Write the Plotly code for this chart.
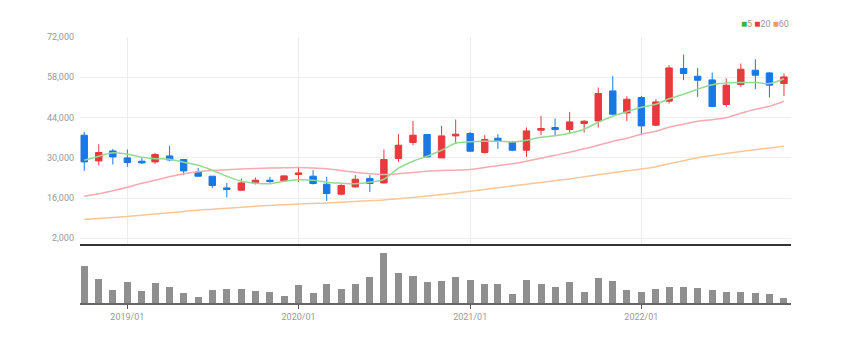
import pandas as pd
import plotly.graph_objects as go

months = pd.date_range("2018-10-01", periods=50, freq="MS")

open_ = [37840, 28900, 32380, 29950, 28800, 28550, 30640, 29390, 25080, 23580,
         19510, 18710, 21250, 22190, 21950, 24170, 23580, 20800, 17320, 19860,
         22780, 21250, 29740, 35300, 38080, 29950, 37600, 38430, 31820, 36800,
         35300, 32620, 39580, 40520, 39820, 41910, 42810, 53250, 45600, 50950,
         41320, 49670, 61040, 58360, 57070, 48520, 55470, 60450, 59510, 55820]
high = [38990, 34710, 33080, 32870, 30080, 31680, 34120, 29500, 26470, 23600,
        21250, 22780, 23130, 23340, 23930, 26820, 25670, 23340, 20800, 23930,
        23930, 32870, 38190, 42810, 38300, 41080, 43300, 38990, 37840, 38190,
        35750, 40520, 44550, 43650, 45940, 43060, 54430, 58360, 51400, 51510,
        50360, 62190, 65910, 61250, 59650, 57560, 62780, 64270, 59860, 59300]
low = [25420, 27400, 27650, 26820, 27860, 27860, 28800, 23930, 23400, 19410,
       16170, 18470, 20690, 21040, 21600, 21600, 20700, 14990, 16970, 19650,
       18120, 21000, 28550, 34360, 30100, 29900, 34950, 32030, 31480, 33080,
       32280, 30290, 37840, 37840, 38430, 38780, 40520, 44900, 42810, 37840,
       41000, 48870, 56970, 51160, 47600, 47680, 54640, 53840, 50950, 51510]
close = [28550, 31820, 30290, 28350, 28210, 31130, 29250, 25420, 23580, 20350,
         18950, 21250, 22190, 21730, 23690, 24730, 21040, 17560, 20350, 22540,
         21040, 29390, 34360, 37840, 30290, 37600, 38190, 32280, 36350, 35650,
         32620, 39340, 40170, 39820, 42470, 42710, 52340, 45140, 50360, 41080,
         49420, 61250, 59300, 56970, 47820, 55230, 60790, 58710, 55230, 58120]

ma5 = [29140, 30540, 31750, 31230, 30190, 29670, 29490, 28450, 27410, 25670,
       23580, 21840, 21150, 20970, 21840, 22360, 22190, 21490, 21150, 20970,
       21490, 22540, 26360, 28800, 30540, 32620, 35060, 35580, 35750, 35750,
       35510, 36100, 37140, 37670, 38540, 39930, 42360, 44450, 46010, 47580,
       48620, 50530, 52100, 53840, 55400, 56030, 56170, 56170, 55820, 57490]
ma20 = [16620, 17490, 18540, 19750, 21150, 22190, 23410, 24450, 25150, 25560,
        25840, 26090, 26260, 26400, 26540, 26610, 26430, 26190, 25560, 24970,
        24450, 24170, 24450, 24870, 25320, 25560, 25670, 25910, 26610, 27230,
        27930, 28800, 29840, 30880, 31930, 33150, 34360, 35750, 36800, 38190,
        39230, 40620, 41670, 42710, 43230, 43930, 45490, 46880, 47930, 49670]
ma60 = [8520, 8870, 9220, 9600, 10020, 10430, 10850, 11300, 11760, 12100,
        12450, 12800, 13150, 13420, 13670, 13910, 14090, 14260, 14540, 14820,
        15060, 15340, 15760, 16210, 16690, 17220, 17770, 18360, 18950, 19580,
        20210, 20800, 21420, 22020, 22640, 23410, 24100, 24800, 25490, 26120,
        26890, 27930, 28970, 30010, 30780, 31480, 32170, 32800, 33390, 34010]

volume = [4440000, 2840000, 1520000, 2480000, 1360000, 2400000, 1840000, 1200000, 720000, 1480000,
          1640000, 1640000, 1360000, 1280000, 800000, 2080000, 1200000, 2200000, 1640000, 2200000,
          3120000, 6000000, 3520000, 3240000, 2480000, 2640000, 3120000, 2720000, 2200000, 2280000,
          1080000, 2720000, 2200000, 1880000, 2440000, 1240000, 3000000, 2600000, 1480000, 1320000,
          1640000, 1920000, 1840000, 1720000, 1480000, 1280000, 1280000, 1120000, 1000000, 600000]

price_ticks = [2000, 16000, 30000, 44000, 58000, 72000]
date_ticks = ["2019-01-01", "2020-01-01", "2021-01-01", "2022-01-01"]
ma_names = ["5", "20", "60"]
ma_legend_colors = ["#2fb83c", "#e8393d", "#f39a4a"]

RED = "#e8393d"
BLUE = "#1a78e6"
font_family = "Liberation Sans Narrow, Roboto, sans-serif"

fig = go.Figure()
fig.add_trace(go.Candlestick(
    x=months, open=open_, high=high, low=low, close=close,
    increasing=dict(line=dict(color=RED, width=1), fillcolor=RED),
    decreasing=dict(line=dict(color=BLUE, width=1), fillcolor=BLUE),
    whiskerwidth=0, hoverinfo="skip", xaxis="x", yaxis="y", showlegend=False))

for vals, col in [(ma60, "#f9c697"), (ma20, "#f5abb1"), (ma5, "#93da93")]:
    fig.add_trace(go.Scatter(x=months, y=vals, mode="lines",
                             line=dict(color=col, width=1.5, shape="spline"),
                             hoverinfo="skip", xaxis="x", yaxis="y", showlegend=False))

fig.add_trace(go.Bar(x=months, y=volume, marker=dict(color="#8f8f8f", line=dict(width=0)),
                     width=15 * 86400000, hoverinfo="skip", xaxis="x2", yaxis="y2",
                     showlegend=False))

xrange = ["2018-09-22", "2022-11-16"]
legend_text = " ".join(
    f'<span style="color:{c};font-size:10px">■</span>{n}' for n, c in zip(ma_names, ma_legend_colors))

fig.update_layout(
    width=847, height=341,
    margin=dict(l=80, r=56, t=37, b=38),
    paper_bgcolor="white", plot_bgcolor="white",
    font=dict(family=font_family, size=9, color="#999999"),
    showlegend=False,
    bargap=0,
    xaxis=dict(type="date", range=xrange, domain=[0, 1], anchor="y",
               tickvals=date_ticks, showticklabels=False, ticks="",
               showgrid=True, gridcolor="#ececec", gridwidth=1,
               showline=True, linecolor="#333333", linewidth=2,
               zeroline=False, rangeslider=dict(visible=False)),
    yaxis=dict(domain=[0.2218, 1], range=[0, 72000], tickvals=price_ticks,
               ticktext=[f"{v:,}" for v in price_ticks],
               showgrid=True, gridcolor="#efefef", zeroline=False, showline=False,
               ticks="", ticklabelstandoff=5, tickfont=dict(size=9, color="#999999")),
    xaxis2=dict(type="date", range=xrange, domain=[0, 1], anchor="y2",
                tickvals=date_ticks, tickformat="%Y/%m", ticks="outside",
                ticklen=4, tickcolor="#555555", tickwidth=1,
                showgrid=False, showline=True, linecolor="#666666", linewidth=2,
                zeroline=False, tickfont=dict(size=9, color="#999999")),
    yaxis2=dict(domain=[0, 0.19], range=[0, 6060000], visible=False),
    annotations=[dict(text=legend_text, x=1, y=1.0526, xref="paper", yref="paper",
                      xanchor="right", yanchor="middle", showarrow=False,
                      font=dict(size=9, color="#999999", family=font_family))],
)

fig.write_html("out.html")
